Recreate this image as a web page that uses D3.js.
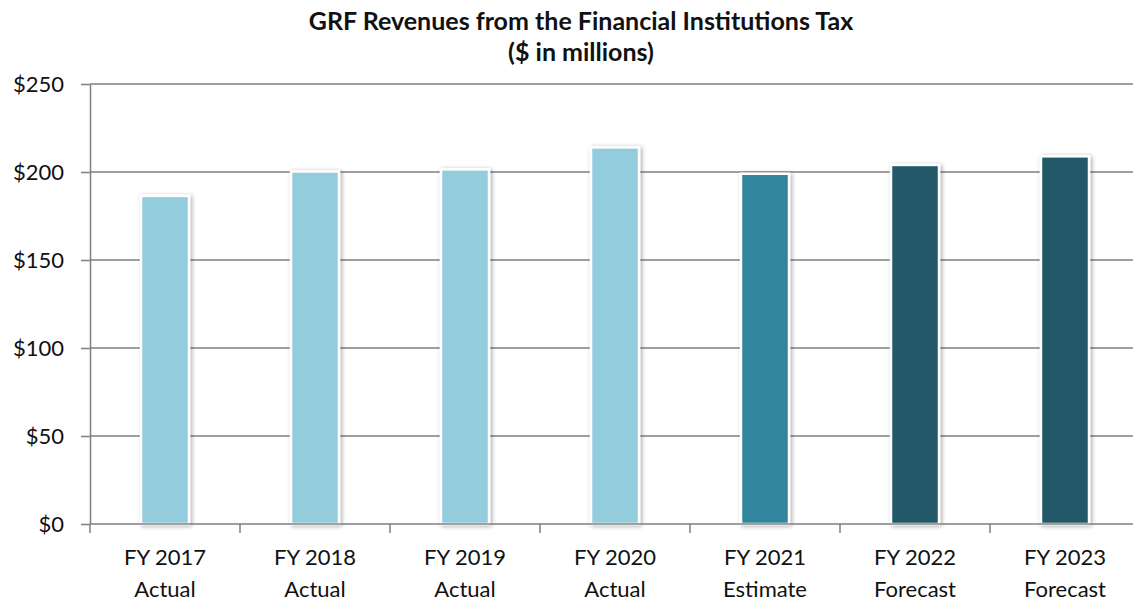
<!DOCTYPE html>
<html>
<head>
<meta charset="utf-8">
<script src="https://cdn.jsdelivr.net/npm/d3@7"></script>
<style>
	body { margin: 0; background: #fff; }
	svg text { font-family: Lato, "Open Sans", sans-serif; fill: #111; }
	.title { font-weight: bold; font-size: 25px; }
	.axis text { font-size: 22px; }
	.axis path, .axis line { stroke: #7f7f7f; stroke-width: 1.5; }
</style>
</head>
<body>
<svg id="chart" width="1133" height="602"></svg>
<script>
// chart data
var years = ["FY 2017", "FY 2018", "FY 2019", "FY 2020", "FY 2021", "FY 2022", "FY 2023"];
var kinds = ["Actual", "Actual", "Actual", "Actual", "Estimate", "Forecast", "Forecast"];
var revenues = [186.4, 200.3, 201.5, 214.0, 199.0, 204.0, 208.9];
var yTicks = [0, 50, 100, 150, 200, 250];
var kindColors = { "Actual" : "#93cddd", "Estimate" : "#31859c", "Forecast" : "#215968" };

var svg = d3.select("svg#chart");
var margin = { left : 90, top : 84, bottom : 78 };
var plotHeight = 602 - margin.top - margin.bottom;

var x = d3.scaleBand()
	.domain(years)
	.range([margin.left, margin.left + 150 * years.length])
	.paddingInner(0.68)
	.paddingOuter(0.34);

var y = d3.scaleLinear()
	.domain([0, 250])
	.range([margin.top + plotHeight, margin.top]);

// soft shadow behind bars
var defs = svg.append("defs");
var filter = defs.append("filter").attr("id", "shadow")
	.attr("x", "-30%").attr("y", "-10%").attr("width", "160%").attr("height", "120%");
filter.append("feDropShadow")
	.attr("dx", 1.5).attr("dy", 1).attr("stdDeviation", 2)
	.attr("flood-color", "#000").attr("flood-opacity", 0.35);

// gridlines
svg.append("g")
	.selectAll("line")
	.data(yTicks.slice(1))
	.enter().append("line")
	.attr("x1", margin.left)
	.attr("x2", 1133)
	.attr("y1", function (d) { return y(d); })
	.attr("y2", function (d) { return y(d); })
	.attr("stroke", "#7f7f7f")
	.attr("stroke-width", 1.5);

// bars
svg.append("g")
	.selectAll("rect")
	.data(revenues)
	.enter().append("rect")
	.attr("x", function (d, i) { return x(years[i]); })
	.attr("width", x.bandwidth())
	.attr("y", function (d) { return y(d); })
	.attr("height", function (d) { return y(0) - y(d); })
	.attr("fill", function (d, i) { return kindColors[kinds[i]]; })
	.attr("stroke", "#fff")
	.attr("stroke-width", 2.5)
	.attr("filter", "url(#shadow)");

// y axis
var yAxis = svg.append("g")
	.classed("axis", true)
	.attr("transform", "translate(" + margin.left + ",0)")
	.call(d3.axisLeft(y).tickValues(yTicks).tickSize(9).tickSizeOuter(0).tickPadding(17)
		.tickFormat(function (d) { return "$" + d; }));

// x axis
var xAxisScale = d3.scalePoint()
	.domain(d3.range(years.length + 1))
	.range([margin.left, margin.left + 150 * years.length]);

var xAxis = svg.append("g")
	.classed("axis", true)
	.attr("transform", "translate(0," + y(0) + ")");

xAxis.append("line")
	.attr("x1", margin.left).attr("x2", 1133);

xAxis.selectAll("line.tick")
	.data(d3.range(years.length + 1))
	.enter().append("line")
	.classed("tick", true)
	.attr("x1", function (d) { return xAxisScale(d); })
	.attr("x2", function (d) { return xAxisScale(d); })
	.attr("y1", 0)
	.attr("y2", 9);

var labels = xAxis.selectAll("text")
	.data(years)
	.enter().append("text")
	.attr("text-anchor", "middle")
	.attr("transform", function (d) {
		return "translate(" + (x(d) + x.bandwidth() / 2) + ",0)";
	});

labels.append("tspan")
	.attr("x", 0).attr("y", 41)
	.text(function (d) { return d; });

labels.append("tspan")
	.attr("x", 0).attr("y", 73)
	.text(function (d, i) { return kinds[i]; });

// title
var title = svg.append("text")
	.classed("title", true)
	.attr("text-anchor", "middle");

title.append("tspan").attr("x", 581).attr("y", 30)
	.text("GRF Revenues from the Financial Institutions Tax");
title.append("tspan").attr("x", 581).attr("y", 61)
	.text("($ in millions)");
</script>
</body>
</html>
